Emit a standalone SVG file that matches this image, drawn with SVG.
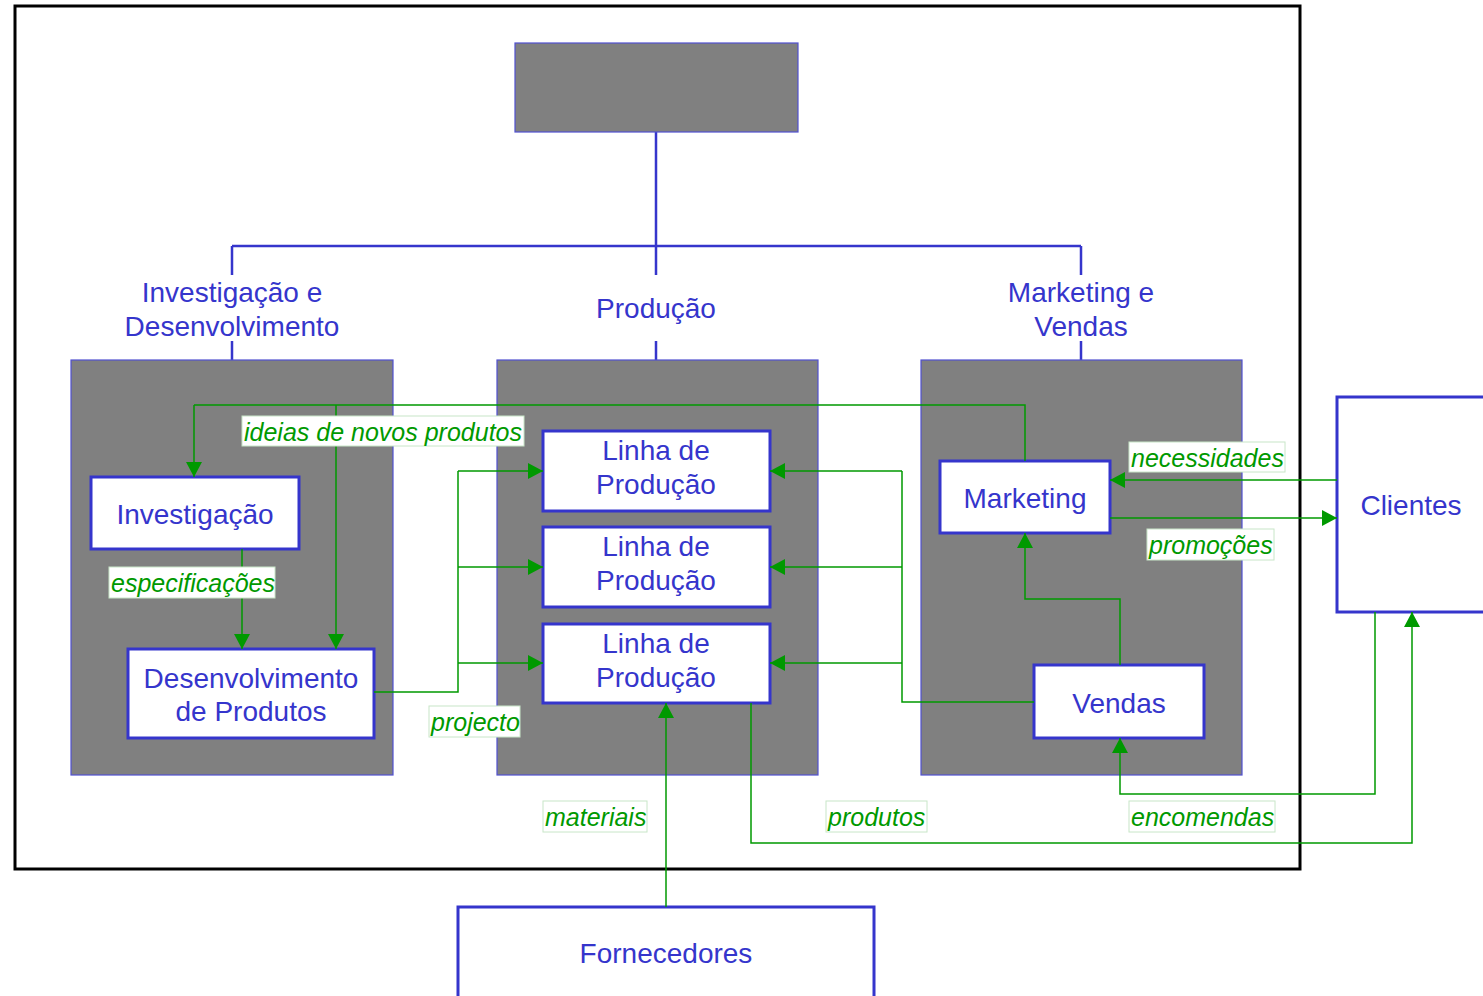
<svg xmlns="http://www.w3.org/2000/svg" width="1483" height="996" viewBox="0 0 1483 996">
<defs>
<style>
.grey{fill:#808080;stroke:#5050d0;stroke-width:1.2}
.box{fill:#fff;stroke:#3535cc;stroke-width:3}
.t{font-family:"Liberation Sans",Arial,sans-serif;font-size:28px;fill:#3535cc;text-anchor:middle}
.g{font-family:"Liberation Sans",Arial,sans-serif;font-size:25px;font-style:italic;fill:#009900}
.lbl{fill:#fff;stroke:#c8e6c8;stroke-width:1}
.org{fill:none;stroke:#3535cc;stroke-width:2.5}
.c{fill:none;stroke:#009900;stroke-width:1.5}
.ca{fill:none;stroke:#009900;stroke-width:1.5;marker-end:url(#ah)}
</style>
<marker id="ah" viewBox="0 0 15 16" refX="15" refY="8" markerWidth="15" markerHeight="16" markerUnits="userSpaceOnUse" orient="auto">
<path d="M0,0 L15,8 L0,16 z" fill="#009900"/>
</marker>
</defs>
<rect width="1483" height="996" fill="#fff"/>
<rect x="15" y="6" width="1285" height="863" fill="none" stroke="#000" stroke-width="3"/>

<g id="org-lines">
<path class="org" d="M656,132 V246 M232,246 H1081 M232,246 V275 M656,246 V275 M1081,246 V275 M232,341 V360 M656,341 V360 M1081,341 V360"/>
</g>

<g id="top"><rect class="grey" x="515" y="43" width="283" height="89"/></g>

<g id="sec-id">
<rect class="grey" x="71" y="360" width="322" height="415"/>
<text class="t" x="232" y="302">Investigação e</text>
<text class="t" x="232" y="336">Desenvolvimento</text>
</g>
<g id="sec-prod">
<rect class="grey" x="497" y="360" width="321" height="415"/>
<text class="t" x="656" y="318">Produção</text>
</g>
<g id="sec-mv">
<rect class="grey" x="921" y="360" width="321" height="415"/>
<text class="t" x="1081" y="302">Marketing e</text>
<text class="t" x="1081" y="336">Vendas</text>
</g>

<g id="investigacao"><rect class="box" x="91" y="477" width="208" height="72"/><text class="t" x="195" y="524">Investigação</text></g>
<g id="desenvolvimento"><rect class="box" x="128" y="649" width="246" height="89"/><text class="t" x="251" y="688">Desenvolvimento</text><text class="t" x="251" y="721">de Produtos</text></g>
<g id="linha1"><rect class="box" x="543" y="431" width="227" height="80"/><text class="t" x="656" y="460">Linha de</text><text class="t" x="656" y="494">Produção</text></g>
<g id="linha2"><rect class="box" x="543" y="527" width="227" height="80"/><text class="t" x="656" y="556">Linha de</text><text class="t" x="656" y="590">Produção</text></g>
<g id="linha3"><rect class="box" x="543" y="624" width="227" height="79"/><text class="t" x="656" y="653">Linha de</text><text class="t" x="656" y="687">Produção</text></g>
<g id="marketing"><rect class="box" x="940" y="461" width="170" height="72"/><text class="t" x="1025" y="508">Marketing</text></g>
<g id="vendas"><rect class="box" x="1034" y="665" width="170" height="73"/><text class="t" x="1119" y="713">Vendas</text></g>
<g id="clientes"><rect class="box" x="1337" y="397" width="160" height="215"/><text class="t" x="1411" y="515">Clientes</text></g>
<g id="fornecedores"><rect class="box" x="458" y="907" width="416" height="100"/><text class="t" x="666" y="963">Fornecedores</text></g>

<g id="connectors">
<path class="c" d="M1025,461 V405 H194"/>
<path class="ca" d="M194,405 V477"/>
<path class="ca" d="M336,405 V649"/>
<path class="ca" d="M242,549 V649"/>
<path class="c" d="M374,692 H458 V471"/>
<path class="ca" d="M458,471 H543"/>
<path class="ca" d="M458,567 H543"/>
<path class="ca" d="M458,663 H543"/>
<path class="c" d="M1034,702 H902 V471"/>
<path class="ca" d="M902,471 H770"/>
<path class="ca" d="M902,567 H770"/>
<path class="ca" d="M902,663 H770"/>
<path class="ca" d="M1337,480 H1110"/>
<path class="ca" d="M1110,518 H1337"/>
<path class="ca" d="M1120,665 V599 H1025 V533"/>
<path class="ca" d="M1375,612 V794 H1120 V738"/>
<path class="ca" d="M751,703 V843 H1412 V612"/>
<path class="ca" d="M666,907 V703"/>
</g>

<g id="labels">
<rect class="lbl" x="242" y="416" width="282" height="30"/><text class="g" x="244" y="441" textLength="278">ideias de novos produtos</text>
<rect class="lbl" x="109" y="567" width="166" height="31"/><text class="g" x="111" y="592">especificações</text>
<rect class="lbl" x="429" y="706" width="91" height="31"/><text class="g" x="431" y="731">projecto</text>
<rect class="lbl" x="1129" y="442" width="156" height="30"/><text class="g" x="1131" y="467">necessidades</text>
<rect class="lbl" x="1147" y="529" width="127" height="31"/><text class="g" x="1149" y="554">promoções</text>
<rect class="lbl" x="543" y="801" width="104" height="31"/><text class="g" x="545" y="826">materiais</text>
<rect class="lbl" x="826" y="801" width="101" height="31"/><text class="g" x="828" y="826">produtos</text>
<rect class="lbl" x="1129" y="801" width="146" height="31"/><text class="g" x="1131" y="826">encomendas</text>
</g>
</svg>
